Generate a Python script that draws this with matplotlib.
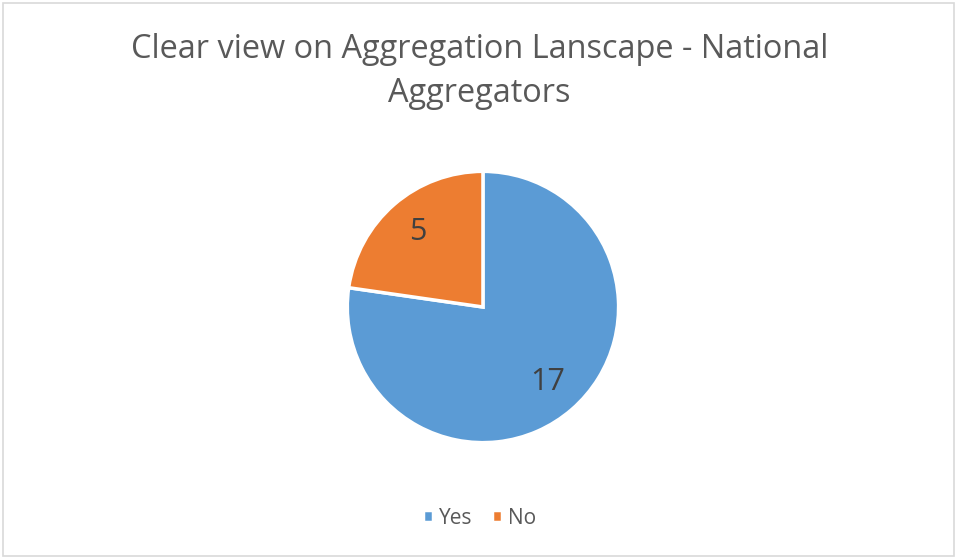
import matplotlib.pyplot as plt
from matplotlib.patches import Rectangle

labels = ['Yes', 'No']
counts = [17, 5]
colors = ['#5B9BD5', '#ED7D31']

plt.rcParams['font.family'] = ['Open Sans', 'DejaVu Sans']

fig = plt.figure(figsize=(9.59, 5.59), dpi=100)

# thin gray frame round the whole chart
fig.patches.append(Rectangle((0.003, 0.005), 0.992, 0.99, transform=fig.transFigure,
                             fill=False, edgecolor='#D9D9D9', linewidth=1.2))

r = 137
ax = fig.add_axes([0.5036 - r / 959, 0.4508 - r / 559, 2 * r / 959, 2 * r / 559])
wedges, texts, autotexts = ax.pie(
    counts, colors=colors, startangle=90, counterclock=False,
    autopct=lambda p: '{:.0f}'.format(p * sum(counts) / 100),
    pctdistance=0.73, radius=1,
    wedgeprops=dict(edgecolor='white', linewidth=2.5),
    textprops=dict(color='#404040', fontsize=22))
ax.set_xlim(-1.01, 1.01)
ax.set_ylim(-1.01, 1.01)
ax.set_aspect('equal')

fig.text(0.5, 0.872, 'Clear view on Aggregation Lanscape - National\nAggregators',
         ha='center', va='center', fontsize=23.4, color='#595959', linespacing=1.45)

leg = fig.legend(wedges, labels, loc='center', bbox_to_anchor=(0.5, 0.073), ncol=2,
                 frameon=False, fontsize=15, handlelength=0.5, handleheight=0.5,
                 handletextpad=0.3, columnspacing=0.9)
for t in leg.get_texts():
    t.set_color('#595959')

fig.savefig('out.png', dpi=100)
